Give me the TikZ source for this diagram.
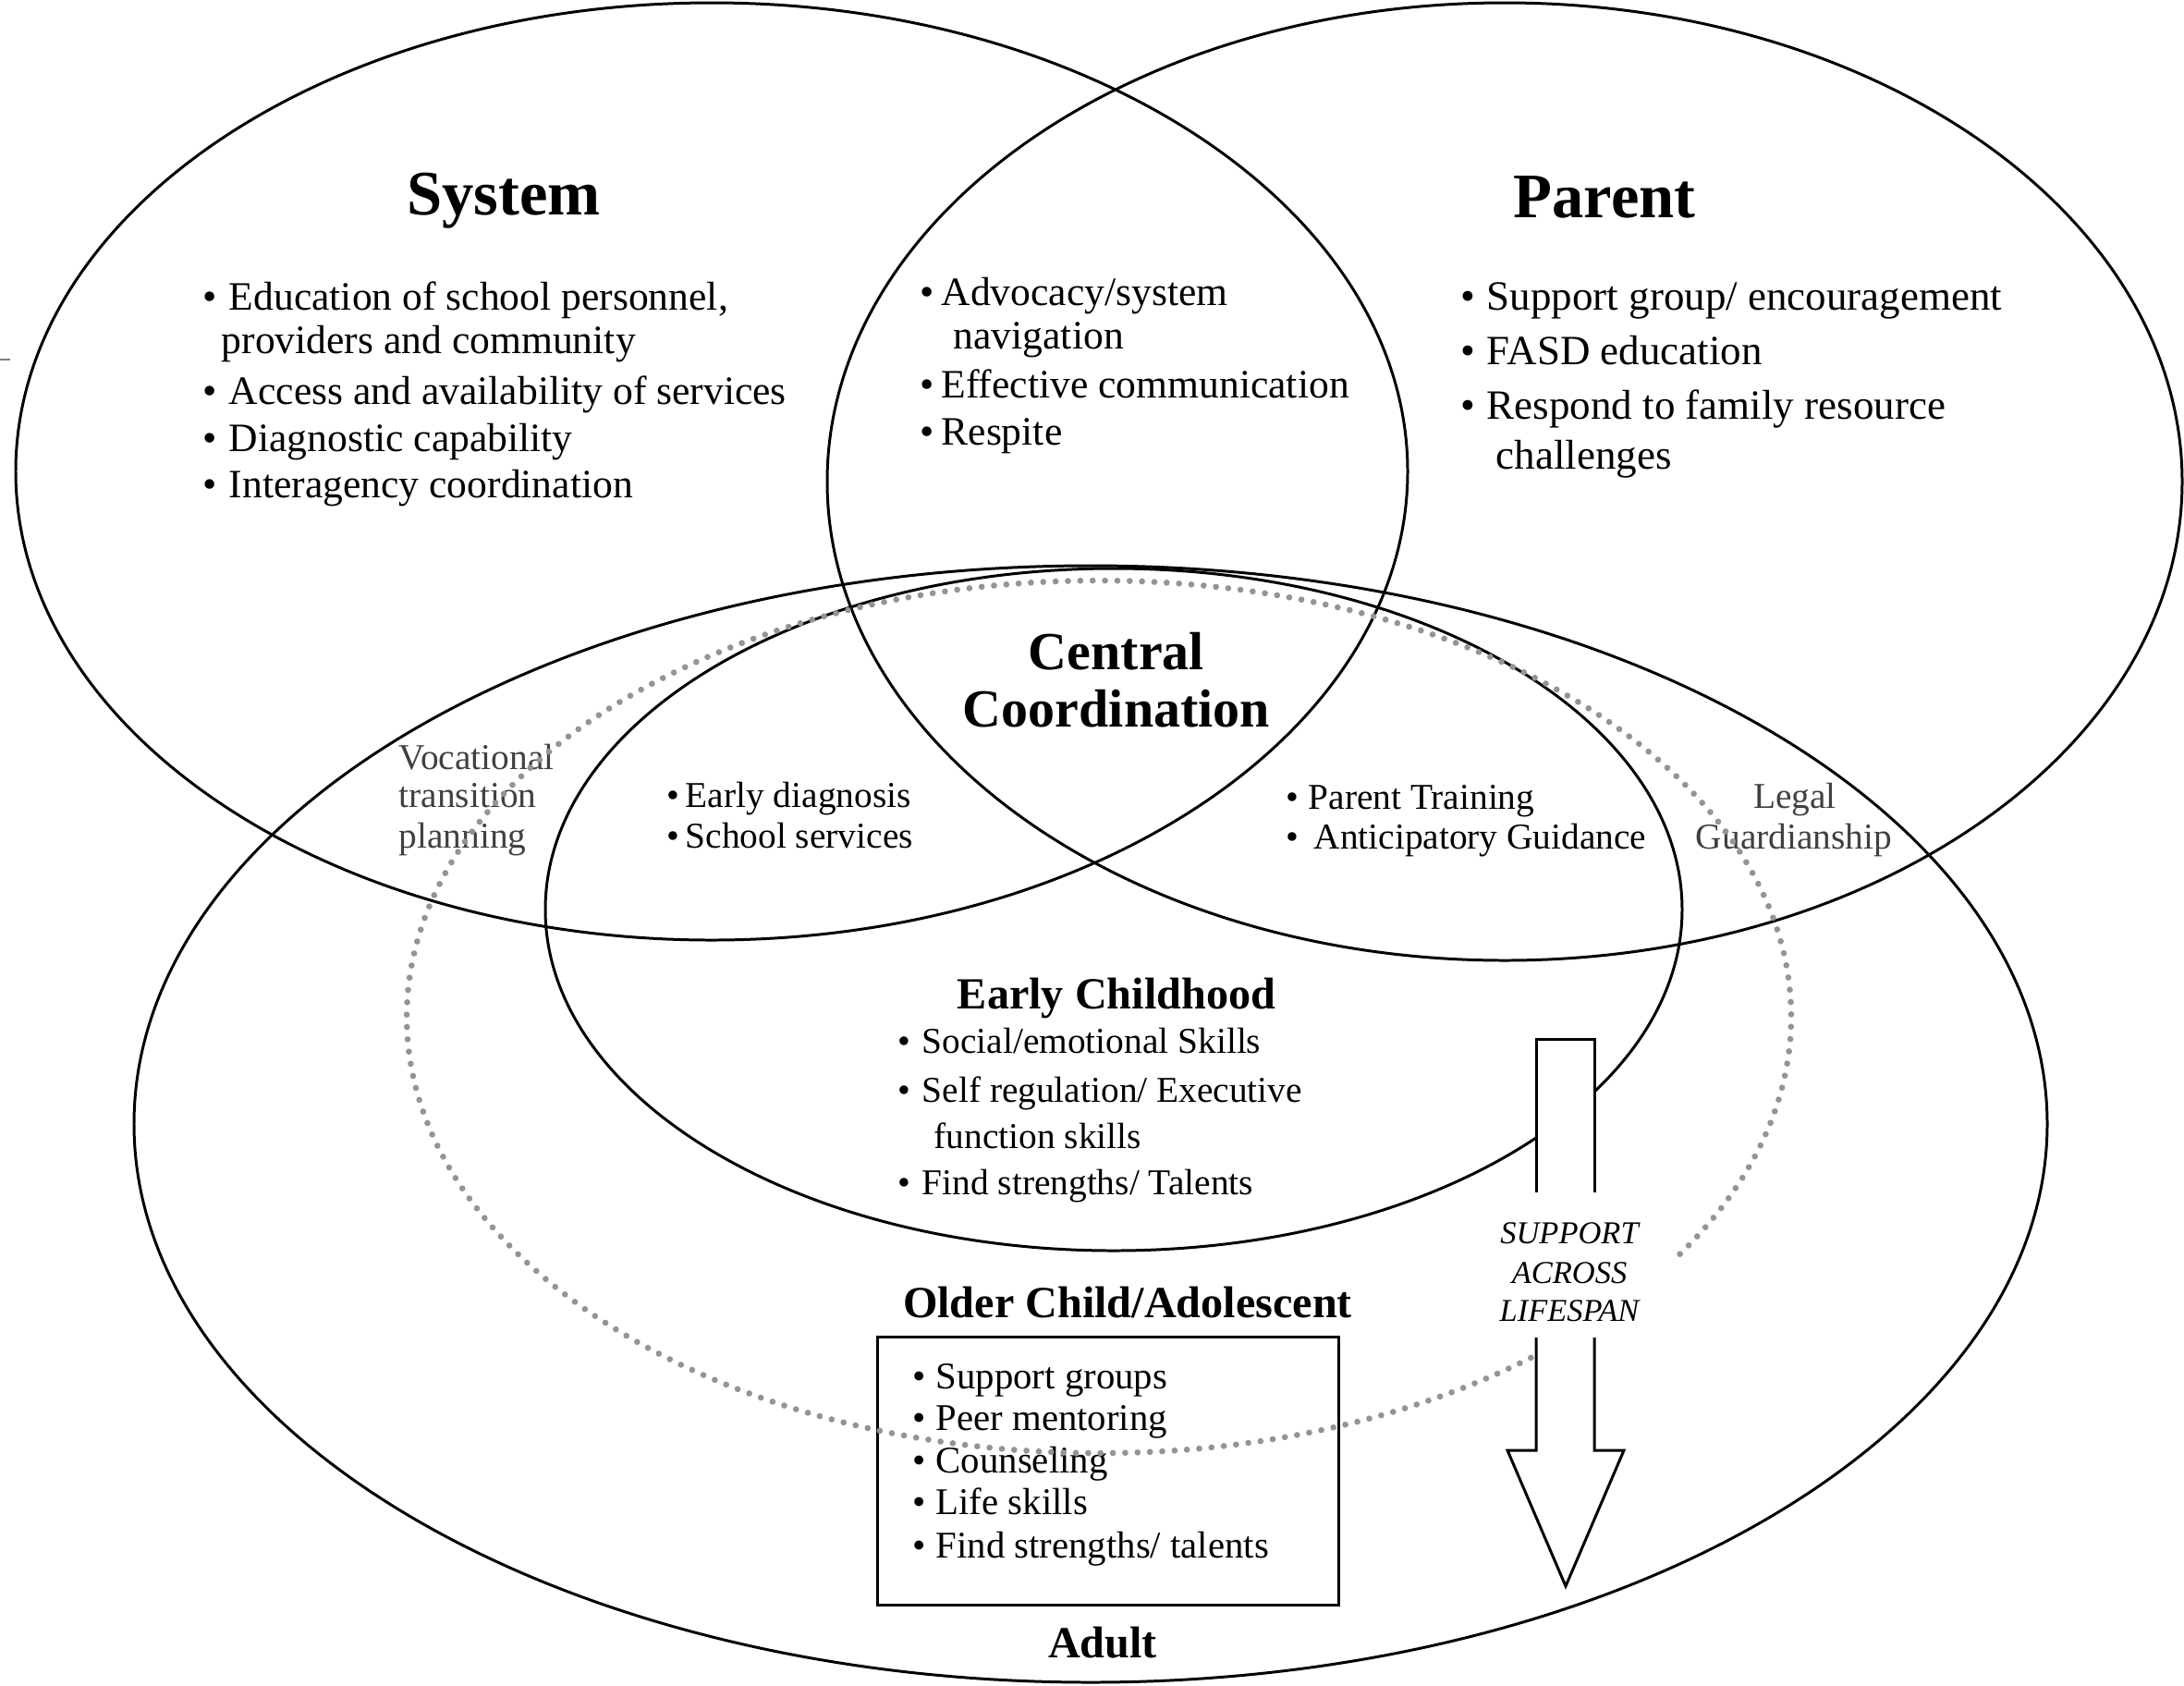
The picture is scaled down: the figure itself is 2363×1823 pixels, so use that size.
\documentclass[tikz,border=0pt]{standalone}
\usepackage{fontspec}
\setmainfont{Liberation Serif}
\newcommand{\bul}[1][8pt]{\makebox[#1][l]{\textbullet}}
\tikzset{
  ring/.style={line width=0.85pt},
  dotring/.style={draw=black!42, line width=1.9pt, line cap=round, dash pattern=on 0pt off 3.8pt},
  bigtitle/.style={anchor=base, inner sep=0pt, font=\bfseries\fontsize{19.5}{22}\selectfont},
  midtitle/.style={anchor=base, inner sep=0pt, font=\bfseries\fontsize{16.5}{19}\selectfont},
  agetitle/.style={anchor=base, inner sep=0pt, font=\bfseries\fontsize{13.7}{16}\selectfont},
  item/.style={anchor=base west, inner sep=0pt, font=\fontsize{12.4}{14}\selectfont},
  paritem/.style={anchor=base west, inner sep=0pt, font=\fontsize{12.8}{14}\selectfont},
  smallitem/.style={anchor=base west, inner sep=0pt, font=\fontsize{11.2}{13}\selectfont},
  boxitem/.style={anchor=base west, inner sep=0pt, font=\fontsize{11.6}{13}\selectfont},
  note/.style={smallitem, text=black!75},
  lifespan/.style={anchor=base, inner sep=0pt, font=\itshape\fontsize{9.8}{11}\selectfont},
}
\begin{document}
\begin{tikzpicture}[x=0.01cm, y=-0.01cm]
  \useasboundingbox (0,0) rectangle (2363,1823);
  \draw[black!50, line width=0.5pt] (0,389) -- (11,389);

  % the four rings
  \draw[ring] (770,510) ellipse [x radius=753, y radius=507];
  \draw[ring] (1628,521) ellipse [x radius=733, y radius=518];
  \draw[ring] (1180,1216) ellipse [x radius=1035, y radius=604];
  \draw[ring] (1205,984) ellipse [x radius=615, y radius=369];

  % lifespan arrow
  \fill[white] (1662,1124) -- (1725,1124) -- (1725,1569) -- (1757,1569) -- (1694,1716) -- (1631,1569) -- (1662,1569) -- cycle;
  \draw[ring] (1662,1290) -- (1662,1124) -- (1725,1124) -- (1725,1290);
  \draw[ring] (1662,1447) -- (1662,1569) -- (1631,1569) -- (1694,1716) -- (1757,1569) -- (1725,1569) -- (1725,1447);
  \node[lifespan] (sup1) at (1698,1345) {SUPPORT};
  \node[lifespan] (sup2) at (1698,1388) {ACROSS};
  \node[lifespan] (sup3) at (1698,1429) {LIFESPAN};

  % system
  \node[bigtitle] (system) at (545,232) {System};
  \node[item] (sys1) at (219,335) {\bul Education of school personnel,};
  \node[item] (sys2) at (239,382) {providers and community};
  \node[item] (sys3) at (219,437) {\bul Access and availability of services};
  \node[item] (sys4) at (219,488) {\bul Diagnostic capability};
  \node[item] (sys5) at (219,538) {\bul Interagency coordination};

  % system and parent
  \node[item] (both1) at (995,330) {\bul[6.5pt]Advocacy/system};
  \node[item] (both2) at (1031,377) {navigation};
  \node[item] (both3) at (995,430) {\bul[6.5pt]Effective communication};
  \node[item] (both4) at (995,481) {\bul[6.5pt]Respite};

  % parent
  \node[bigtitle] (parent) at (1736,235) {Parent};
  \node[paritem] (par1) at (1580,335) {\bul Support group/ encouragement};
  \node[paritem] (par2) at (1580,394) {\bul FASD education};
  \node[paritem] (par3) at (1580,453) {\bul Respond to family resource};
  \node[paritem] (par4) at (1618,507) {challenges};

  % centre
  \node[midtitle] (central) at (1208,724) {Central};
  \node[midtitle] (coord) at (1208,786) {Coordination};

  \node[note] (voc1) at (431,832) {Vocational};
  \node[note] (voc2) at (431,873) {transition};
  \node[note] (voc3) at (431,917) {planning};

  \node[smallitem] (diag1) at (721,873) {\bul[5.7pt]Early diagnosis};
  \node[smallitem] (diag2) at (721,917) {\bul[5.7pt]School services};

  \node[smallitem] (train1) at (1391,875) {\bul[6.8pt]Parent Training};
  \node[smallitem] (train2) at (1391,918) {\bul[8.5pt]Anticipatory Guidance};

  \node[note, anchor=base] (legal1) at (1942,874) {Legal};
  \node[note, anchor=base] (legal2) at (1941,918) {Guardianship};

  % early childhood
  \node[agetitle] (early) at (1208,1091) {Early Childhood};
  \node[smallitem] (ec1) at (971,1139) {\bul[7.4pt]Social/emotional Skills};
  \node[smallitem] (ec2) at (971,1192) {\bul[7.4pt]Self regulation/ Executive};
  \node[smallitem] (ec3) at (1010,1242) {function skills};
  \node[smallitem] (ec4) at (971,1292) {\bul[7.4pt]Find strengths/ Talents};

  % older child
  \node[agetitle] (older) at (1220,1425) {Older Child/Adolescent};
  \node[draw, line width=0.85pt, minimum width=4.98cm, minimum height=2.89cm, inner sep=0pt] (olderbox) at (1199,1591.5) {};
  \node[boxitem] (old1) at (987,1502) {\bul[7.1pt]Support groups};
  \node[boxitem] (old2) at (987,1547) {\bul[7.1pt]Peer mentoring};
  \node[boxitem] (old3) at (987,1593) {\bul[7.1pt]Counseling};
  \node[boxitem] (old4) at (987,1638) {\bul[7.1pt]Life skills};
  \node[boxitem] (old5) at (987,1685) {\bul[7.1pt]Find strengths/ talents};

  \node[agetitle] (adult) at (1193,1793) {Adult};

  % dotted ring, open at the arrow
  \draw[dotring] (1656.3,1468.9) arc[start angle=51.4, end angle=393.4, x radius=749, y radius=472];
\end{tikzpicture}
\end{document}
